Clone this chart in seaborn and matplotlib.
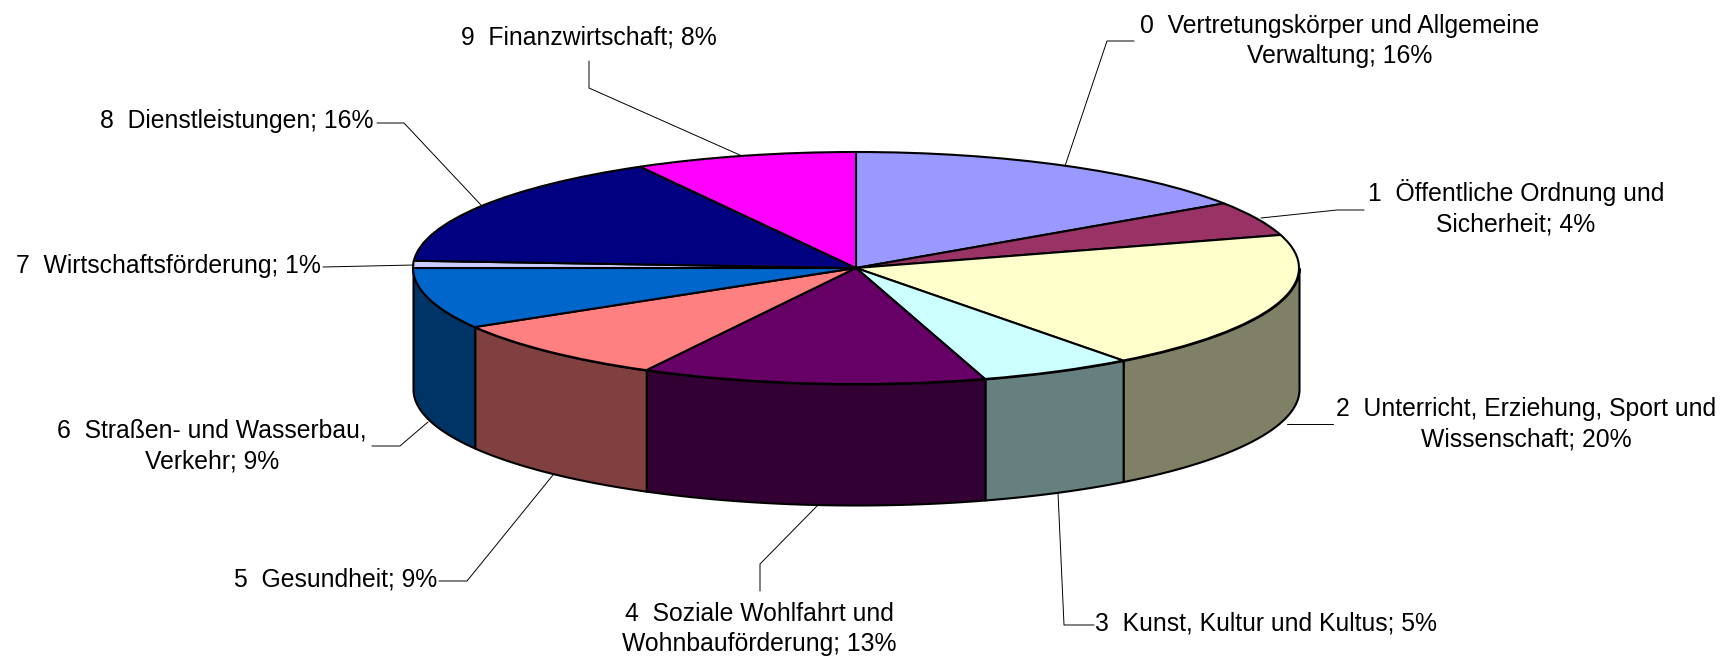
import numpy as np
import matplotlib
matplotlib.use("Agg")
import matplotlib.pyplot as plt
import seaborn as sns
from matplotlib.transforms import Affine2D

# slice shares (the printed labels are rounded)
shares = [15.6, 4.8, 19.3, 5.6, 12.55, 8.65, 8.5, 1.0, 15.9, 8.1]
top_colors = ["#9999FF", "#993366", "#FFFFCC", "#CCFFFF", "#660066",
              "#FF8080", "#0066CC", "#CCCCFF", "#000080", "#FF00FF"]
wall_colors = ["#4D4D80", "#4D1A33", "#808066", "#668080", "#330033",
               "#804040", "#003366", "#666680", "#000040", "#800080"]
label_texts = [
    "0  Vertretungskörper und Allgemeine\nVerwaltung; 16%",
    "1  Öffentliche Ordnung und\nSicherheit; 4%",
    "2  Unterricht, Erziehung, Sport und\nWissenschaft; 20%",
    "3  Kunst, Kultur und Kultus; 5%",
    "4  Soziale Wohlfahrt und\nWohnbauförderung; 13%",
    "5  Gesundheit; 9%",
    "6  Straßen- und Wasserbau,\nVerkehr; 9%",
    "7  Wirtschaftsförderung; 1%",
    "8  Dienstleistungen; 16%",
    "9  Finanzwirtschaft; 8%",
]

W, H = 1735, 659
CX, CY = 856, 268      # pie centre in pixels
RX, RY = 443, 116      # top ellipse radii in pixels
DEPTH = 121 / RY       # wall height in pie units

# label anchor (pixels), alignment
label_pos = [
    (1340, 41, "center"), (1516, 208, "center"), (1526, 424, "center"),
    (1095, 623, "left"), (759, 629, "center"), (437, 580, "right"),
    (212, 446, "center"), (321, 266, "right"), (373, 121, "right"),
    (589, 38, "center"),
]
# leader lines (pixels)
leaders = [
    [(1134, 41), (1107, 41), (1065, 166)],
    [(1364, 210), (1337, 210), (1261, 218)],
    [(1333, 424), (1287, 424)],
    [(1094, 625), (1064, 625), (1058, 493)],
    [(760, 591), (760, 564), (818, 505)],
    [(439, 581), (467, 581), (553, 475)],
    [(372, 446), (400, 446), (428, 422)],
    [(323, 267), (414, 265)],
    [(377, 123), (404, 123), (481, 205)],
    [(589, 61), (589, 88), (742, 156)],
]

sns.set_theme(style="white")
plt.rcParams["font.family"] = ["Liberation Sans", "DejaVu Sans"]

fig = plt.figure(figsize=(W / 100, H / 100), dpi=100)
ax = fig.add_axes([0, 0, 1, 1])

# front walls first, the pie top goes over them
edges = np.cumsum([0] + shares) / 100 * 2 * np.pi
for i, color in enumerate(wall_colors):
    lo = max(edges[i], np.pi / 2)
    hi = min(edges[i + 1], 3 * np.pi / 2)
    if lo >= hi:
        continue
    t = np.linspace(lo, hi, 80)
    ax.fill_between(np.sin(t), np.cos(t), np.cos(t) - DEPTH,
                    facecolor=color, edgecolor="black", linewidth=1.5, zorder=1)

ax.pie(shares, colors=top_colors, startangle=90, counterclock=False,
       wedgeprops={"edgecolor": "black", "linewidth": 1.5, "zorder": 2})
ax.set_aspect("auto")
ax.set_xlim(-CX / RX, (W - CX) / RX)
ax.set_ylim((CY - H) / RY, CY / RY)
ax.axis("off")

to_fig = Affine2D().scale(1 / W, -1 / H).translate(0, 1) + fig.transFigure
for line in leaders:
    xs, ys = zip(*line)
    ax.plot(xs, ys, color="black", lw=0.7, transform=to_fig, zorder=3, clip_on=False)

for text, (x, y, ha) in zip(label_texts, label_pos):
    fig.text(x, y, text, transform=to_fig, ha=ha, va="center", fontsize=17.8,
             color="black", linespacing=1.35, multialignment="center")

fig.savefig("out.png", dpi=100, facecolor="white")
